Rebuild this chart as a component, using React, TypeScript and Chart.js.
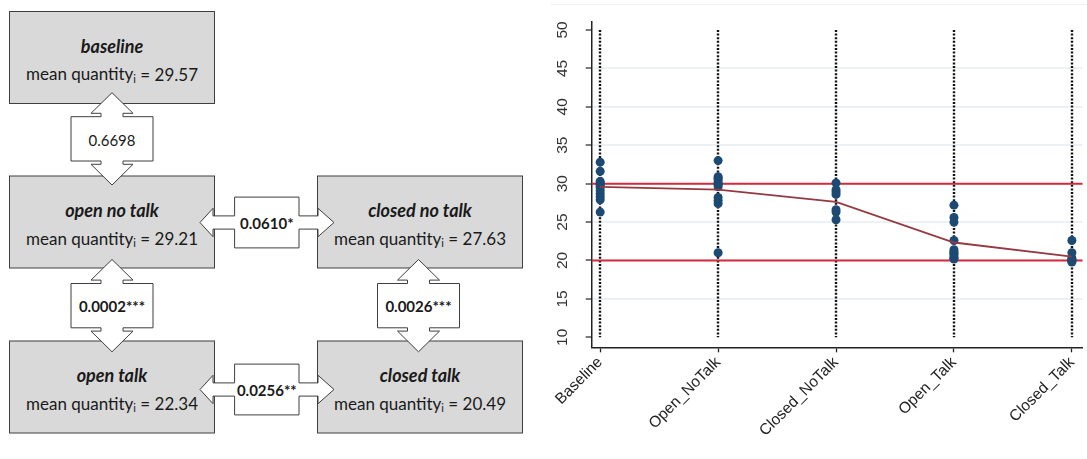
import React, { useEffect, useRef } from "react";
import { Chart, registerables } from "chart.js";

Chart.register(...registerables);

// ---------- chart data ----------
const CATEGORIES = ["Baseline", "Open_NoTalk", "Closed_NoTalk", "Open_Talk", "Closed_Talk"];
const BASELINE_VALUES = [32.8, 31.6, 30.3, 30.1, 29.9, 29.7, 29.5, 29.1, 28.7, 28.3, 27.9, 26.3];
const OPEN_NOTALK_VALUES = [33.0, 30.9, 30.7, 30.5, 30.2, 30.0, 29.9, 29.6, 28.2, 27.8, 27.4, 21.0];
const CLOSED_NOTALK_VALUES = [30.1, 29.2, 28.9, 28.6, 26.6, 26.3, 25.3];
const OPEN_TALK_VALUES = [27.2, 25.6, 25.0, 22.6, 21.4, 21.1, 21.0, 20.8, 20.5, 20.3, 20.2];
const CLOSED_TALK_VALUES = [22.6, 21.0, 20.3, 20.1, 20.0, 19.9, 19.8];
const MEAN_VALUES = [29.57, 29.21, 27.63, 22.34, 20.49];
const REFERENCE_LINES = [20, 30];
const Y_TICKS = [10, 15, 20, 25, 30, 35, 40, 45, 50];
const DROP_RANGE = [10, 50];
const Y_MIN = 8.7;
const Y_MAX = 51.08;
const X_MIN = -0.072;
const X_MAX = 4.09;

// ---------- diagram data ----------
const BOX_TITLES = ["baseline", "open no talk", "closed no talk", "open talk", "closed talk"];
const BOX_MEANS = ["29.57", "29.21", "27.63", "22.34", "20.49"];
const P_VALUES = ["0.6698", "0.0610*", "0.0002***", "0.0026***", "0.0256**"];

const GROUP_VALUES = [
  BASELINE_VALUES,
  OPEN_NOTALK_VALUES,
  CLOSED_NOTALK_VALUES,
  OPEN_TALK_VALUES,
  CLOSED_TALK_VALUES,
];

const FONT = "Lato, 'Open Sans', sans-serif";
const AXIS_FONT = "'Liberation Sans', Arial, Helvetica, sans-serif";
const BOX_FILL = "#d9d9d9";
const STROKE = "#3f3f3f";

function vArrow(cx: number, top: number): string {
  const headHalf = 21, neckHalf = 11, shaftHalf = 41;
  const headBase = top + 20.6, shaftTop = top + 24, shaftBot = top + 68.3, neckBot = top + 71.6, tip = top + 92.3;
  const pts = [
    [cx, top],
    [cx + headHalf, headBase],
    [cx + neckHalf, headBase],
    [cx + neckHalf, shaftTop],
    [cx + shaftHalf, shaftTop],
    [cx + shaftHalf, shaftBot],
    [cx + neckHalf, shaftBot],
    [cx + neckHalf, neckBot],
    [cx + headHalf, neckBot],
    [cx, tip],
    [cx - headHalf, neckBot],
    [cx - neckHalf, neckBot],
    [cx - neckHalf, shaftBot],
    [cx - shaftHalf, shaftBot],
    [cx - shaftHalf, shaftTop],
    [cx - neckHalf, shaftTop],
    [cx - neckHalf, headBase],
    [cx - headHalf, headBase],
  ];
  return pts.map((p) => p.join(",")).join(" ");
}

function hArrow(cy: number): string {
  const tipL = 200, headL = 213, shaftL = 234.6, shaftR = 299, headR = 318, tipR = 334;
  const headHalf = 14.2, neckHalf = 6.6, shaftHalf = 25.4;
  const pts = [
    [tipL, cy],
    [headL, cy - headHalf],
    [headL, cy - neckHalf],
    [shaftL, cy - neckHalf],
    [shaftL, cy - shaftHalf],
    [shaftR, cy - shaftHalf],
    [shaftR, cy - neckHalf],
    [headR, cy - neckHalf],
    [headR, cy - headHalf],
    [tipR, cy],
    [headR, cy + headHalf],
    [headR, cy + neckHalf],
    [shaftR, cy + neckHalf],
    [shaftR, cy + shaftHalf],
    [shaftL, cy + shaftHalf],
    [shaftL, cy + neckHalf],
    [headL, cy + neckHalf],
    [headL, cy + headHalf],
  ];
  return pts.map((p) => p.join(",")).join(" ");
}

function Box({ x, y, title, mean }: { x: number; y: number; title: string; mean: string }) {
  const w = 205, h = 92;
  const cx = x + w / 2;
  return (
    <g>
      <rect x={x} y={y} width={w} height={h} fill={BOX_FILL} stroke={STROKE} strokeWidth={1} />
      <text x={cx} y={y + 34} textAnchor="middle" dominantBaseline="central" fontFamily={FONT} fontSize={18} fontWeight="bold" fontStyle="italic" fill="#1a1a1a">
        {title}
      </text>
      <text x={cx} y={y + 62} textAnchor="middle" dominantBaseline="central" fontFamily={FONT} fontSize={17} fill="#1a1a1a">
        mean quantity
        <tspan fontSize={11} dy={4}>i</tspan>
        <tspan dy={-4}> = {mean}</tspan>
      </text>
    </g>
  );
}

function Diagram() {
  const boxPos = [
    [9.5, 11.5],
    [9.5, 176],
    [317.5, 176],
    [9.5, 341],
    [317.5, 341],
  ];
  const label = (x: number, y: number, t: string, bold: boolean) => (
    <text x={x} y={y} textAnchor="middle" dominantBaseline="central" fontFamily={FONT} fontSize={15} fontWeight={bold ? "bold" : "normal"} fill="#1a1a1a">
      {t}
    </text>
  );
  return (
    <svg width={540} height={459} style={{ position: "absolute", left: 0, top: 0 }}>
      {boxPos.map((p, i) => (
        <Box key={i} x={p[0]} y={p[1]} title={BOX_TITLES[i]} mean={BOX_MEANS[i]} />
      ))}
      <polygon points={vArrow(112, 92.7)} fill="#fff" stroke={STROKE} strokeWidth={1} />
      <polygon points={vArrow(112, 259.5)} fill="#fff" stroke={STROKE} strokeWidth={1} />
      <polygon points={vArrow(418.5, 259.5)} fill="#fff" stroke={STROKE} strokeWidth={1} />
      <polygon points={hArrow(222.5)} fill="#fff" stroke={STROKE} strokeWidth={1} />
      <polygon points={hArrow(389.5)} fill="#fff" stroke={STROKE} strokeWidth={1} />
      {label(112, 139.5, P_VALUES[0], false)}
      {label(266.8, 222.5, P_VALUES[1], true)}
      {label(112, 306, P_VALUES[2], true)}
      {label(418.5, 306, P_VALUES[3], true)}
      {label(266.8, 389.5, P_VALUES[4], true)}
    </svg>
  );
}

const guidePlugin = {
  id: "guides",
  beforeDatasetsDraw(chart: any) {
    const { ctx, chartArea, scales } = chart;
    const x = scales.x;
    const y = scales.y;
    ctx.save();
    ctx.strokeStyle = "#111";
    ctx.lineWidth = 2.4;
    ctx.setLineDash([2, 1.6]);
    CATEGORIES.forEach((_, i) => {
      const px = Math.round(x.getPixelForValue(i));
      ctx.beginPath();
      ctx.moveTo(px, y.getPixelForValue(DROP_RANGE[1]));
      ctx.lineTo(px, y.getPixelForValue(DROP_RANGE[0]));
      ctx.stroke();
    });
    ctx.setLineDash([]);
    ctx.strokeStyle = "#d22a3e";
    ctx.lineWidth = 2;
    REFERENCE_LINES.forEach((v) => {
      const py = y.getPixelForValue(v);
      ctx.beginPath();
      ctx.moveTo(chartArea.left, py);
      ctx.lineTo(chartArea.right, py);
      ctx.stroke();
    });
    ctx.restore();
  },
};

function RightChart() {
  const ref = useRef<HTMLCanvasElement | null>(null);
  useEffect(() => {
    if (!ref.current) return;
    const pointData: { x: number; y: number }[] = [];
    GROUP_VALUES.forEach((vals, i) => vals.forEach((v) => pointData.push({ x: i, y: v })));
    const chart = new Chart(ref.current, {
      type: "scatter",
      data: {
        datasets: [
          {
            type: "line",
            data: MEAN_VALUES.map((v, i) => ({ x: i, y: v })),
            borderColor: "#953a42",
            borderWidth: 1.8,
            pointRadius: 0,
            fill: false,
            order: 0,
          } as any,
          {
            data: pointData,
            backgroundColor: "#1c4a73",
            borderColor: "#1c4a73",
            pointRadius: 4.5,
            borderWidth: 0,
            order: 1,
          },
        ],
      },
      options: {
        animation: false,
        responsive: false,
        maintainAspectRatio: false,
        layout: { padding: { top: 21.7, right: 0, bottom: 0, left: 0 } },
        plugins: { legend: { display: false }, tooltip: { enabled: false } },
        scales: {
          x: {
            type: "linear",
            min: X_MIN,
            max: X_MAX,
            afterBuildTicks: (s: any) => {
              s.ticks = CATEGORIES.map((_, i) => ({ value: i }));
            },
            ticks: {
              autoSkip: false,
              minRotation: 45,
              maxRotation: 45,
              padding: 1,
              color: "#222",
              font: { family: AXIS_FONT, size: 15.5 },
              callback: (v: any) => CATEGORIES[v] ?? "",
            },
            grid: { drawOnChartArea: false, tickLength: 5, tickColor: "#222", tickWidth: 1.3 },
            border: { display: true, color: "#222", width: 1.5 },
            afterFit: (s: any) => {
              s.height = 111.7;
              s.paddingLeft = 0;
              s.paddingRight = 0;
            },
          },
          y: {
            type: "linear",
            min: Y_MIN,
            max: Y_MAX,
            afterBuildTicks: (s: any) => {
              s.ticks = Y_TICKS.map((v) => ({ value: v }));
            },
            ticks: {
              minRotation: 90,
              maxRotation: 90,
              crossAlign: "center",
              padding: 14,
              color: "#333",
              font: { family: AXIS_FONT, size: 15.5 },
            },
            grid: {
              color: (ctx: any) =>
                ctx.tick && (ctx.tick.value === 10 || ctx.tick.value === 50) ? "rgba(0,0,0,0)" : "#edf1f4",
              lineWidth: 2,
              tickLength: 6,
              tickColor: "#333",
              tickWidth: 1.3,
            },
            border: { display: true, color: "#222", width: 1.5 },
            afterFit: (s: any) => {
              s.width = 51.7;
              s.paddingTop = 0;
              s.paddingBottom = 0;
            },
          },
        },
      } as any,
      plugins: [guidePlugin],
    });
    return () => chart.destroy();
  }, []);
  return (
    <canvas
      ref={ref}
      width={547}
      height={459}
      style={{ position: "absolute", left: 540, top: 0, width: 547, height: 459 }}
    />
  );
}

export default function App() {
  return (
    <div style={{ position: "absolute", left: 0, top: 0, width: 1087, height: 459, background: "#fff", overflow: "hidden" }}>
      <Diagram />
      <div style={{ position: "absolute", left: 551, top: 4, width: 536, height: 1, background: "#eef2f4" }} />
      <RightChart />
    </div>
  );
}
